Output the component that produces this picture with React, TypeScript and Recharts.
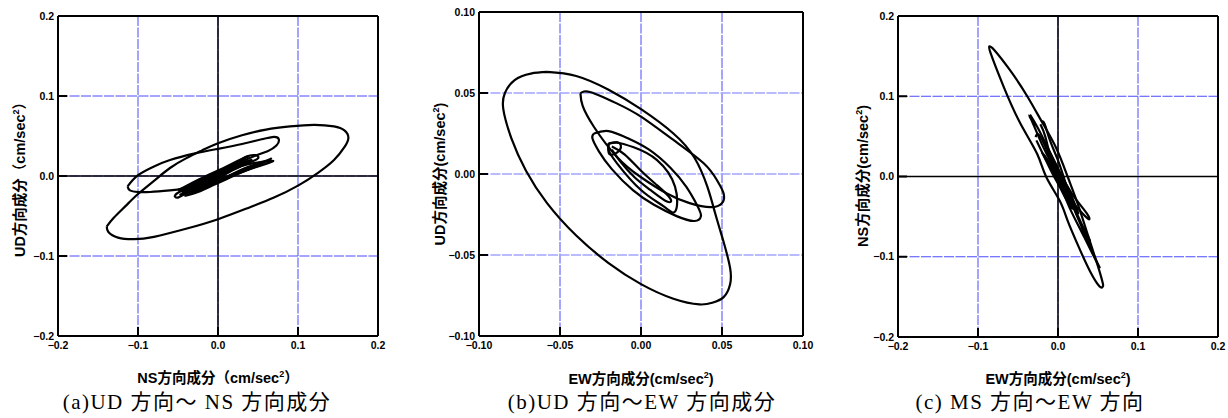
import React from 'react';
import { LineChart, Line, XAxis, YAxis, ReferenceLine, CartesianGrid } from 'recharts';

type P = [number, number];

// ---------- axis ticks ----------
const ticksAC = [-0.2, -0.1, 0, 0.1, 0.2];
const tickLabelsAC = ['−0.2', '−0.1', '0.0', '0.1', '0.2'];
const ticksB = [-0.1, -0.05, 0, 0.05, 0.1];
const tickLabelsB = ['−0.10', '−0.05', '0.00', '0.05', '0.10'];

// ---------- (a) UD vs NS ----------
const aOuter: P[] = [
  [-0.139, -0.063], [-0.13, -0.052], [-0.115, -0.037], [-0.1, -0.0225], [-0.08, -0.006], [-0.06, 0.01],
  [-0.04, 0.022], [-0.02, 0.032], [0, 0.041], [0.03, 0.051], [0.06, 0.058], [0.09, 0.062], [0.12, 0.064],
  [0.145, 0.062], [0.158, 0.057], [0.163, 0.048], [0.158, 0.036], [0.145, 0.02], [0.125, 0.004],
  [0.1, -0.012], [0.07, -0.027], [0.04, -0.039], [0, -0.054], [-0.04, -0.066], [-0.08, -0.076],
  [-0.105, -0.079], [-0.125, -0.077], [-0.137, -0.07], [-0.139, -0.063],
];
const aMiddle: P[] = [
  [-0.113, -0.013], [-0.1, 0.001], [-0.08, 0.012], [-0.06, 0.02], [-0.03, 0.028], [0, 0.034], [0.03, 0.04],
  [0.055, 0.046], [0.07, 0.049], [0.076, 0.046], [0.073, 0.038], [0.062, 0.031], [0.048, 0.026],
  [0.025, 0.016], [0, 0.004], [-0.03, -0.012], [-0.06, -0.018], [-0.085, -0.02], [-0.1, -0.02],
  [-0.11, -0.018], [-0.113, -0.013],
];
const aInner1: P[] = [
  [-0.054, -0.026], [-0.05, -0.021], [-0.03, -0.012], [-0.01, -0.002], [0.01, 0.008], [0.025, 0.017],
  [0.035, 0.024], [0.047, 0.026], [0.05, 0.022], [0.04, 0.017], [0.02, 0.008], [0, -0.003],
  [-0.02, -0.013], [-0.04, -0.022], [-0.05, -0.027], [-0.054, -0.026],
];
const aInner2: P[] = [
  [-0.045, -0.02], [-0.02, -0.008], [0, 0.002], [0.02, 0.01], [0.045, 0.016], [0.069, 0.019],
  [0.05, 0.012], [0.03, 0.005], [0.01, -0.003], [-0.01, -0.011], [-0.03, -0.018], [-0.045, -0.022],
];
const aInner3: P[] = [
  [-0.04, -0.016], [-0.02, -0.006], [0, 0.004], [0.02, 0.014], [0.03, 0.018], [0.02, 0.011],
  [0, 0.0], [-0.02, -0.01], [-0.04, -0.02],
];
const aInner4: P[] = [
  [-0.035, -0.019], [-0.015, -0.012], [0.005, -0.004], [0.025, 0.006], [0.045, 0.014], [0.06, 0.019],
  [0.065, 0.021], [0.04, 0.009], [0.01, -0.001], [-0.02, -0.012], [-0.035, -0.02],
];
const aInner5: P[] = [
  [-0.048, -0.024], [-0.03, -0.016], [-0.01, -0.006], [0.01, 0.004], [0.03, 0.013], [0.042, 0.02],
  [0.03, 0.016], [0.01, 0.007], [-0.01, -0.003], [-0.03, -0.013], [-0.048, -0.024],
];
const aInner6: P[] = [
  [-0.05, -0.018], [-0.035, -0.01], [-0.015, 0.0], [0.005, 0.009], [0.025, 0.019], [0.038, 0.025],
  [0.03, 0.02], [0.012, 0.011], [-0.008, 0.001], [-0.028, -0.009], [-0.05, -0.018],
];
const aInner7: P[] = [
  [-0.042, -0.025], [-0.025, -0.02], [-0.005, -0.011], [0.015, -0.002], [0.035, 0.007], [0.055, 0.015],
  [0.04, 0.011], [0.02, 0.003], [0.0, -0.006], [-0.02, -0.016], [-0.042, -0.025],
];

// ---------- (b) UD vs EW ----------
const bOuter: P[] = [
  [-0.058, 0.063], [-0.04, 0.0605], [-0.02, 0.052], [0, 0.04], [0.02, 0.025], [0.033, 0.01], [0.041, -0.008],
  [0.046, -0.025], [0.051, -0.042], [0.055, -0.058], [0.055, -0.068], [0.051, -0.076], [0.044, -0.0795],
  [0.036, -0.0805], [0.02, -0.077], [0, -0.068], [-0.02, -0.055], [-0.04, -0.038], [-0.058, -0.018],
  [-0.071, 0.002], [-0.08, 0.022], [-0.085, 0.04], [-0.084, 0.05], [-0.078, 0.058], [-0.068, 0.062],
  [-0.058, 0.063],
];
const bMiddle: P[] = [
  [-0.0374, 0.0498], [-0.031, 0.0505], [-0.015, 0.0436], [0, 0.0354], [0.02, 0.021], [0.0387, 0.0066],
  [0.047, -0.004], [0.051, -0.012], [0.05, -0.018], [0.043, -0.0205], [0.03, -0.018], [0.016, -0.012],
  [0, -0.002], [-0.015, 0.0107], [-0.029, 0.029], [-0.036, 0.042], [-0.0374, 0.0498],
];
const bThird: P[] = [
  [-0.029, 0.025], [-0.02, 0.0265], [-0.008, 0.022], [0.005, 0.015], [0.018, 0.004], [0.028, -0.008],
  [0.035, -0.02], [0.037, -0.026], [0.033, -0.029], [0.022, -0.026], [0.008, -0.019], [-0.005, -0.01],
  [-0.018, 0.003], [-0.026, 0.014], [-0.03, 0.022], [-0.029, 0.025],
];
const bFourth: P[] = [
  [-0.02, 0.019], [-0.0148, 0.0193], [-0.0045, 0.0165], [0.0099, 0.0086], [0.021, -0.0078], [0.0212, -0.023],
  [0.014, -0.02], [0, -0.0099], [-0.0148, 0.0066], [-0.02, 0.0148], [-0.02, 0.019],
];
const bInner: P[] = [
  [-0.018, 0.017], [-0.01, 0.012], [0, 0.002], [0.01, -0.007], [0.018, -0.015], [0.016, -0.017],
  [0.006, -0.01], [-0.004, -0.002], [-0.013, 0.008], [-0.018, 0.015],
];
const bSquare: P[] = [
  [-0.02, 0.0185], [-0.014, 0.0195], [-0.013, 0.015], [-0.019, 0.012], [-0.02, 0.0185],
];

// ---------- (c) NS vs EW ----------
const cOuter: P[] = [
  [-0.086, 0.162], [-0.08, 0.158], [-0.06, 0.1325], [-0.039, 0.101], [-0.02, 0.068], [-0.002, 0.035],
  [0.012, 0.0], [0.025, -0.035], [0.038, -0.075], [0.05, -0.112], [0.056, -0.133], [0.056, -0.137],
  [0.052, -0.137], [0.04, -0.118], [0.026, -0.088], [0.012, -0.055], [0.002, -0.03], [-0.015, 0.0],
  [-0.026, 0.028], [-0.047, 0.066], [-0.068, 0.112], [-0.084, 0.153], [-0.086, 0.162],
];
const cInner1: P[] = [
  [-0.037, 0.076], [-0.033, 0.07], [-0.02, 0.04], [-0.005, 0.01], [0.01, -0.02], [0.025, -0.04],
  [0.038, -0.053], [0.036, -0.046], [0.02, -0.025], [0.005, 0.0], [-0.01, 0.03], [-0.025, 0.06],
  [-0.035, 0.077],
];
const cInner2: P[] = [
  [-0.021, 0.068], [-0.017, 0.066], [-0.01, 0.045], [0.0, 0.02], [0.01, -0.01], [0.02, -0.04],
  [0.035, -0.075], [0.048, -0.105], [0.052, -0.113], [0.045, -0.1], [0.03, -0.07], [0.015, -0.04],
  [0.003, -0.01], [-0.008, 0.02], [-0.016, 0.05], [-0.022, 0.065],
];
const cInner3: P[] = [
  [-0.028, 0.049], [-0.024, 0.052], [-0.015, 0.035], [-0.005, 0.01], [0.005, -0.01], [0.012, -0.025],
  [0.007, -0.02], [-0.005, 0.0], [-0.015, 0.02], [-0.027, 0.045],
];
const cInner4: P[] = [
  [-0.015, 0.04], [-0.005, 0.02], [0.005, 0.0], [0.015, -0.02], [0.025, -0.045], [0.02, -0.035],
  [0.008, -0.01], [-0.002, 0.01], [-0.012, 0.03],
];
const cInner5: P[] = [
  [-0.012, 0.028], [-0.004, 0.012], [0.006, -0.008], [0.016, -0.03], [0.03, -0.06], [0.04, -0.08],
  [0.032, -0.065], [0.02, -0.04], [0.01, -0.018], [0.0, 0.004], [-0.01, 0.024],
];
const cInner6: P[] = [
  [-0.02, 0.03], [-0.01, 0.012], [0.0, -0.008], [0.01, -0.028], [0.018, -0.04], [0.014, -0.03],
  [0.004, -0.01], [-0.006, 0.01], [-0.018, 0.028],
];

const toRows = (pts: P[]) => pts.map(([x, y]) => ({ x, y }));

const TICK_FONT = '"Liberation Sans", Arial, sans-serif';
const BLUE = '#4a4aff';

type PanelProps = {
  left: number;
  width: number;
  height: number;
  margin: { top: number; right: number; bottom: number; left: number };
  domain: [number, number];
  ticks: number[];
  labels: string[];
  zeroBlack: boolean;
  hGridColor: string;
  hGridWidth: number;
  series: P[][];
};

function Panel(p: PanelProps) {
  const label = (v: number) => {
    const i = p.ticks.findIndex((t) => Math.abs(t - v) < 1e-9);
    return i >= 0 ? p.labels[i] : String(v);
  };
  const renderYTick = (props: any) => {
    const { x, y, payload } = props;
    const ax = x + 4;
    return (
      <g>
        <line x1={ax} x2={ax + 9} y1={y} y2={y} stroke="#000" strokeWidth={2} />
        <text x={x} y={y} dy="0.35em" textAnchor="end" fontFamily={TICK_FONT} fontWeight="bold" fontSize={10.5} fill="#000">
          {label(payload.value)}
        </text>
      </g>
    );
  };
  const renderXTick = (props: any) => {
    const { x, y, payload } = props;
    const ay = y - 5;
    return (
      <g>
        <line x1={x} x2={x} y1={ay} y2={ay - 9} stroke="#000" strokeWidth={2} />
        <text x={x} y={y} dy="0.75em" textAnchor="middle" fontFamily={TICK_FONT} fontWeight="bold" fontSize={10.5} fill="#000">
          {label(payload.value)}
        </text>
      </g>
    );
  };
  const [lo, hi] = p.domain;
  return (
    <div style={{ position: 'absolute', left: p.left, top: 0 }}>
      <LineChart width={p.width} height={p.height} margin={p.margin}>
        <CartesianGrid horizontal={false} stroke={BLUE} strokeDasharray="10 1.5" strokeWidth={1} />
        <CartesianGrid vertical={false} stroke={p.hGridColor} strokeDasharray="10 1.5" strokeWidth={p.hGridWidth} />
        {p.zeroBlack && <ReferenceLine x={0} stroke="#000" strokeWidth={1.5} />}
        {p.zeroBlack && <ReferenceLine y={0} stroke="#000" strokeWidth={1.5} />}
        {p.series.map((s, i) => (
          <Line
            key={i}
            data={toRows(s)}
            dataKey="y"
            type="natural"
            stroke="#000"
            strokeWidth={2.2}
            dot={false}
            activeDot={false}
            isAnimationActive={false}
          />
        ))}
        <ReferenceLine x={lo} stroke="#000" strokeWidth={2} />
        <ReferenceLine x={hi} stroke="#000" strokeWidth={2} />
        <ReferenceLine y={lo} stroke="#000" strokeWidth={2} />
        <ReferenceLine y={hi} stroke="#000" strokeWidth={2} />
        <XAxis
          type="number"
          dataKey="x"
          domain={p.domain}
          ticks={p.ticks}
          allowDataOverflow
          height={24}
          tickSize={0}
          tickMargin={5}
          axisLine={false}
          tickLine={false}
          tick={renderXTick}
          interval={0}
        />
        <YAxis
          type="number"
          dataKey="y"
          domain={p.domain}
          ticks={p.ticks}
          allowDataOverflow
          width={40}
          tickSize={0}
          tickMargin={4}
          axisLine={false}
          tickLine={false}
          tick={renderYTick}
          interval={0}
        />
      </LineChart>
    </div>
  );
}

const titleFont = '"Liberation Sans", Arial, "Noto Sans CJK JP", sans-serif';
const captionFont = '"Liberation Serif", "Times New Roman", "Noto Sans CJK JP", serif';

function AxisTitle({ cx, cy, rotate, pre, post }: { cx: number; cy: number; rotate?: boolean; pre: string; post: string }) {
  return (
    <div
      style={{
        position: 'absolute',
        left: cx,
        top: cy,
        transform: `translate(-50%, -50%)${rotate ? ' rotate(-90deg)' : ''}`,
        whiteSpace: 'nowrap',
        fontFamily: titleFont,
        fontWeight: 'bold',
        fontSize: 14.5,
        lineHeight: '17px',
        color: '#000',
      }}
    >
      {pre}
      <sup style={{ fontSize: 9, verticalAlign: 'top', lineHeight: '8px' }}>2</sup>
      {post}
    </div>
  );
}

function Caption({ cx, text }: { cx: number; text: string }) {
  return (
    <div
      style={{
        position: 'absolute',
        left: cx,
        top: 402,
        transform: 'translate(-50%, -50%)',
        whiteSpace: 'nowrap',
        fontFamily: captionFont,
        fontSize: 21,
        letterSpacing: '1.5px',
        lineHeight: '24px',
        color: '#000',
      }}
    >
      {text}
    </div>
  );
}

export default function App() {
  return (
    <div style={{ position: 'absolute', left: 0, top: 0, width: 1228, height: 418, background: '#fff', overflow: 'hidden' }}>
      <Panel
        left={0}
        width={400}
        height={360}
        margin={{ top: 16, right: 22, bottom: 0, left: 18 }}
        domain={[-0.2, 0.2]}
        ticks={ticksAC}
        labels={tickLabelsAC}
        zeroBlack
        hGridColor={BLUE}
        hGridWidth={1}
        series={[aOuter, aMiddle, aInner1, aInner2, aInner3, aInner4, aInner5, aInner6, aInner7]}
      />
      <Panel
        left={410}
        width={410}
        height={360}
        margin={{ top: 12, right: 17, bottom: 0, left: 29 }}
        domain={[-0.1, 0.1]}
        ticks={ticksB}
        labels={tickLabelsB}
        zeroBlack={false}
        hGridColor="#a4a4ff"
        hGridWidth={1.5}
        series={[bOuter, bMiddle, bThird, bFourth, bInner, bSquare]}
      />
      <Panel
        left={830}
        width={398}
        height={360}
        margin={{ top: 16, right: 10, bottom: -1, left: 28 }}
        domain={[-0.2, 0.2]}
        ticks={ticksAC}
        labels={tickLabelsAC}
        zeroBlack
        hGridColor={BLUE}
        hGridWidth={1}
        series={[cOuter, cInner1, cInner2, cInner3, cInner4, cInner5, cInner6]}
      />

      <AxisTitle cx={218} cy={378} pre="NS方向成分（cm/sec" post="）" />
      <AxisTitle cx={20} cy={176} rotate pre="UD方向成分（cm/sec" post="）" />
      <AxisTitle cx={641} cy={379} pre="EW方向成分(cm/sec" post=")" />
      <AxisTitle cx={440} cy={174} rotate pre="UD方向成分(cm/sec" post=")" />
      <AxisTitle cx={1058} cy={379} pre="EW方向成分(cm/sec" post=")" />
      <AxisTitle cx={863} cy={176} rotate pre="NS方向成分(cm/sec" post=")" />

      <Caption cx={197} text="(a)UD 方向～ NS 方向成分" />
      <Caption cx={642} text="(b)UD 方向～EW 方向成分" />
      <Caption cx={1030} text="(c) MS 方向～EW 方向" />
    </div>
  );
}
